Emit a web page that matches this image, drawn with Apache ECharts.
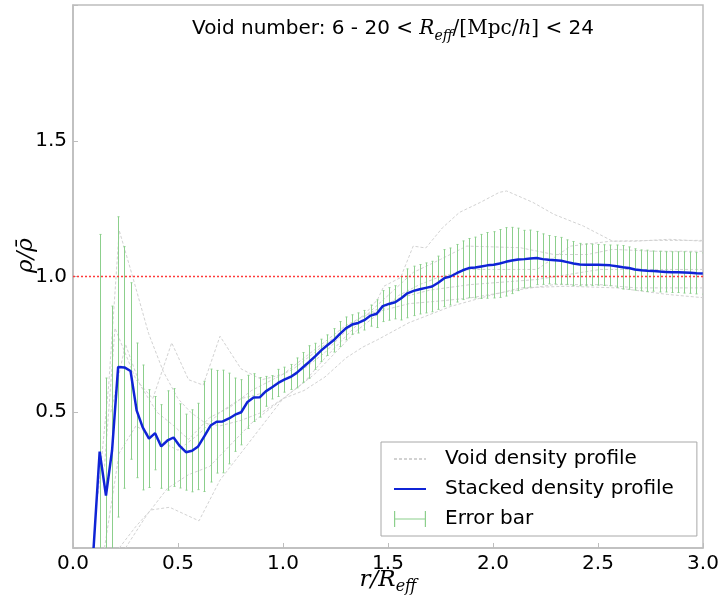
<!DOCTYPE html>
<html><head><meta charset="utf-8">
<script src="https://cdn.jsdelivr.net/npm/echarts@6/dist/echarts.min.js"></script>
<style>html,body{margin:0;padding:0;background:#fff}#c{width:722px;height:606px}</style>
</head><body><div id="c"></div>
<script>
// radial bins r/R_eff
const rValues = [0.098,0.127,0.157,0.186,0.215,0.245,0.274,0.303,0.332,0.362,
0.391,0.420,0.450,0.479,0.508,0.538,0.567,0.596,0.625,0.655,
0.684,0.713,0.743,0.772,0.801,0.831,0.860,0.889,0.918,0.948,
0.977,1.006,1.036,1.065,1.094,1.124,1.153,1.182,1.211,1.241,
1.270,1.299,1.329,1.358,1.387,1.417,1.446,1.475,1.504,1.534,
1.563,1.592,1.622,1.651,1.680,1.710,1.739,1.768,1.797,1.827,
1.856,1.885,1.915,1.944,1.973,2.003,2.032,2.061,2.090,2.120,
2.149,2.178,2.208,2.237,2.266,2.296,2.325,2.354,2.383,2.413,
2.442,2.471,2.501,2.530,2.559,2.589,2.618,2.647,2.676,2.706,
2.735,2.764,2.794,2.823,2.852,2.882,2.911,2.940,2.969,2.999];

// stacked density profile
const stacked = [0.000,0.355,0.193,0.359,0.667,0.665,0.652,0.507,0.444,0.403,
0.423,0.374,0.396,0.407,0.376,0.353,0.358,0.374,0.411,0.451,
0.465,0.466,0.477,0.491,0.500,0.538,0.554,0.555,0.577,0.592,
0.608,0.620,0.630,0.645,0.665,0.685,0.706,0.728,0.747,0.765,
0.788,0.809,0.823,0.829,0.839,0.856,0.863,0.891,0.899,0.905,
0.920,0.938,0.947,0.953,0.958,0.963,0.977,0.994,1.000,1.012,
1.023,1.031,1.033,1.037,1.041,1.043,1.048,1.054,1.059,1.063,
1.064,1.066,1.068,1.064,1.062,1.060,1.058,1.053,1.048,1.044,
1.043,1.043,1.043,1.042,1.041,1.038,1.034,1.031,1.026,1.023,
1.021,1.020,1.018,1.017,1.016,1.016,1.015,1.014,1.012,1.011];

// error bar half-lengths
const errors = [0,0.800,0.433,0.532,0.553,0.445,0.325,0.248,0.230,0.180,
0.135,0.154,0.183,0.180,0.155,0.140,0.151,0.159,0.203,0.208,
0.189,0.189,0.167,0.135,0.120,0.098,0.088,0.073,0.055,0.043,
0.050,0.046,0.046,0.055,0.055,0.060,0.048,0.041,0.038,0.043,
0.046,0.042,0.036,0.037,0.036,0.039,0.051,0.057,0.060,0.061,
0.080,0.090,0.091,0.091,0.092,0.093,0.098,0.105,0.105,0.106,
0.108,0.109,0.112,0.118,0.121,0.122,0.125,0.126,0.122,0.115,
0.106,0.105,0.098,0.093,0.089,0.087,0.086,0.082,0.081,0.078,
0.077,0.076,0.075,0.075,0.075,0.078,0.080,0.078,0.076,0.075,
0.076,0.074,0.075,0.074,0.075,0.075,0.076,0.076,0.076,0.076];

// individual void density profiles [r, rho/rho_bar]
const voidA = [[0.15,0.0],[0.22,0.35],[0.3,0.45],[0.4,0.40],[0.5,0.36],[0.6,0.42],[0.7,0.50],[0.8,0.55],[0.9,0.57],[1.0,0.62],[1.1,0.66],[1.2,0.72],[1.3,0.80],[1.4,0.87],[1.45,0.915],[1.48,0.964],[1.56,0.996],[1.62,1.112],[1.68,1.105],[1.76,1.18],[1.84,1.236],[1.94,1.273],[2.03,1.31],[2.065,1.315],[2.19,1.273],[2.29,1.229],[2.43,1.186],[2.57,1.13],[2.68,1.13],[2.84,1.137],[3.0,1.13]];
const voidB = [[0.12,0.2],[0.17,0.6],[0.22,1.17],[0.28,1.01],[0.36,0.79],[0.43,0.65],[0.5,0.55],[0.56,0.50],[0.63,0.46],[0.7,0.45],[0.8,0.47],[0.9,0.50],[1.0,0.55],[1.1,0.58],[1.2,0.63],[1.3,0.70],[1.38,0.74],[1.45,0.767],[1.6,0.83],[1.8,0.89],[1.97,0.927],[2.13,0.958],[2.35,0.964],[2.59,0.958],[2.83,0.934],[3.0,0.922]];
const voidC = [[0.15,0.3],[0.2,0.81],[0.3,0.62],[0.38,0.55],[0.47,0.756],[0.55,0.62],[0.62,0.60],[0.7,0.78],[0.8,0.66],[0.9,0.62],[1.0,0.64],[1.1,0.70],[1.2,0.76],[1.3,0.82],[1.4,0.86],[1.5,0.88],[1.6,0.90],[1.75,0.91],[1.89,0.921],[2.13,0.952],[2.29,0.97],[2.51,0.97],[2.68,0.958],[3.0,0.958]];
const voidD = [[0.22,0.0],[0.3,0.08],[0.37,0.14],[0.46,0.15],[0.6,0.10],[0.7,0.25],[0.8,0.35],[0.9,0.45],[1.0,0.55],[1.1,0.61],[1.2,0.70],[1.3,0.78],[1.4,0.86],[1.5,0.93],[1.62,1.015],[1.75,1.063],[1.875,1.112],[2.13,1.106],[2.29,1.081],[2.45,1.081],[2.57,1.1],[2.76,1.093],[3.0,1.093]];
const voidE = [[0.25,0.0],[0.35,0.12],[0.45,0.22],[0.55,0.27],[0.65,0.30],[0.75,0.38],[0.85,0.46],[0.95,0.52],[1.05,0.58],[1.15,0.64],[1.25,0.72],[1.35,0.80],[1.45,0.86],[1.55,0.93],[1.65,0.97],[1.75,1.0],[1.89,1.026],[2.21,1.026],[2.37,1.112],[2.56,1.13],[2.76,1.133],[3.0,1.133]];
const voidF = [[0.18,0.5],[0.25,0.75],[0.32,0.6],[0.4,0.5],[0.48,0.45],[0.55,0.40],[0.65,0.48],[0.75,0.52],[0.85,0.58],[0.95,0.62],[1.05,0.66],[1.15,0.72],[1.25,0.78],[1.35,0.84],[1.45,0.88],[1.55,0.92],[1.7,0.95],[1.89,0.97],[2.21,0.989],[2.51,1.026],[3.0,1.026]];
const voidProfiles = [voidA, voidB, voidC, voidD, voidE, voidF];

const meanLevel = [[0, 1.0], [3.0, 1.0]];
const xTicks = [0.0, 0.5, 1.0, 1.5, 2.0, 2.5, 3.0];
const yTickLabels = ['0.5', '1.0', '1.5'];

const GREEN = '#8ccf8c';
const chart = echarts.init(document.getElementById('c'), null, {renderer: 'canvas'});

const voidSeries = voidProfiles.map(p => ({
  name: 'Void density profile', type: 'line', data: p, symbol: 'none', showSymbol: false, silent: true,
  lineStyle: {color: '#d2d2d2', width: 1, type: [3, 2]}, itemStyle: {color: '#d2d2d2'}, z: 1
}));

const nf = {fontWeight: 'normal', color: '#000'};
const option = {
  animation: false,
  backgroundColor: '#fff',
  title: {
    left: 187, top: 10,
    text: '{a|Void number: 6 - 20}{m| < }{i|R}{s|eff}{m|/[Mpc/}{i|h}{m|] < }{a|24}',
    textStyle: {
      fontWeight: 'normal',
      rich: {
        a: {...nf, fontFamily: 'DejaVu Sans', fontSize: 20, lineHeight: 28},
        m: {...nf, fontFamily: 'DejaVu Serif', fontSize: 20, lineHeight: 28},
        i: {...nf, fontFamily: 'DejaVu Serif', fontStyle: 'italic', fontSize: 20, lineHeight: 28},
        s: {...nf, fontFamily: 'DejaVu Serif', fontStyle: 'italic', fontSize: 14, lineHeight: 14, verticalAlign: 'bottom'}
      }
    }
  },
  grid: {left: 73, right: 19, top: 5, bottom: 58, containLabel: false, outerBoundsMode: 'none',
    show: true, borderColor: '#bdbdbd', borderWidth: 1.5, backgroundColor: 'transparent'},
  legend: {
    orient: 'vertical', left: 381, top: 442,
    padding: [7, 23, 7, 12], itemGap: 10, itemWidth: 32, itemHeight: 16,
    borderColor: '#a8a8a8', borderWidth: 1, backgroundColor: '#fff',
    itemStyle: {opacity: 0},
    textStyle: {fontFamily: 'DejaVu Sans', fontSize: 20, color: '#000', padding: [0, 0, 0, 14]},
    data: [
      {name: 'Void density profile'},
      {name: 'Stacked density profile'},
      {name: 'Error bar', icon: 'path://M0,0 h1.2 v16 h-1.2 z M0,7.5 h32 v1 h-32 z M30.8,0 h1.2 v16 h-1.2 z',
       itemStyle: {opacity: 1, color: GREEN}}
    ],
    selectedMode: false
  },
  xAxis: {
    type: 'value', min: 0, max: 3, interval: 0.5,
    name: '{i|r/R}{s|eff}', nameLocation: 'middle', nameGap: 17, nameMoveOverlap: false,
    nameTextStyle: {rich: {
      i: {...nf, fontFamily: 'DejaVu Serif', fontStyle: 'italic', fontSize: 23, lineHeight: 30},
      s: {...nf, fontFamily: 'DejaVu Serif', fontStyle: 'italic', fontSize: 16, lineHeight: 16, verticalAlign: 'bottom'}
    }},
    axisLine: {show: true, lineStyle: {color: '#bdbdbd', width: 1.5}},
    axisTick: {show: true, inside: true, length: 5, lineStyle: {color: '#bdbdbd'}},
    splitLine: {show: false},
    axisLabel: {fontFamily: 'DejaVu Sans', fontSize: 20, color: '#000', margin: 6,
      formatter: v => xTicks.includes(v) ? v.toFixed(1) : ''}
  },
  yAxis: {
    type: 'value', min: 0, max: 2.0, interval: 0.5,
    name: 'ρ/ρ̄', nameLocation: 'middle', nameGap: 35, nameMoveOverlap: false,
    nameTextStyle: {fontFamily: 'DejaVu Serif', fontStyle: 'italic', fontSize: 23, color: '#000', padding: [0, 0, 0, 42]},
    axisLine: {show: true, lineStyle: {color: '#bdbdbd', width: 1.5}},
    axisTick: {show: true, inside: true, length: 5, lineStyle: {color: '#bdbdbd'}},
    splitLine: {show: false},
    axisLabel: {fontFamily: 'DejaVu Sans', fontSize: 20, color: '#000', margin: 6,
      formatter: v => { const s = v.toFixed(1); return yTickLabels.includes(s) ? s : ''; }}
  },
  series: [
    ...voidSeries,
    {
      name: 'Error bar', type: 'custom', clip: true, z: 2,
      itemStyle: {color: GREEN},
      data: rValues.map((r, i) => [r, stacked[i], errors[i]]),
      encode: {x: 0, y: 1},
      renderItem: (params, api) => {
        const x = api.value(0), y = api.value(1), e = api.value(2);
        if (!e) return null;
        const t = api.coord([x, y + e]), b = api.coord([x, y - e]);
        const cx = Math.round(t[0]) + 0.5;
        const st = {stroke: GREEN, lineWidth: 1};
        return {type: 'group', children: [
          {type: 'line', shape: {x1: cx, y1: t[1], x2: cx, y2: b[1]}, style: st},
          {type: 'line', shape: {x1: cx - 1, y1: t[1], x2: cx + 1, y2: t[1]}, style: st},
          {type: 'line', shape: {x1: cx - 1, y1: b[1], x2: cx + 1, y2: b[1]}, style: st}
        ]};
      }
    },
    {
      name: 'mean', type: 'line', data: meanLevel, symbol: 'none', silent: true, z: 3,
      lineStyle: {color: '#ff3b3b', width: 1.5, type: [2, 2]}
    },
    {
      name: 'Stacked density profile', type: 'line', symbol: 'none', showSymbol: false, z: 4,
      data: rValues.map((r, i) => [r, stacked[i]]),
      lineStyle: {color: '#0f24d6', width: 2.5}, itemStyle: {color: '#0f24d6'}
    }
  ]
};
chart.setOption(option);
</script></body></html>
